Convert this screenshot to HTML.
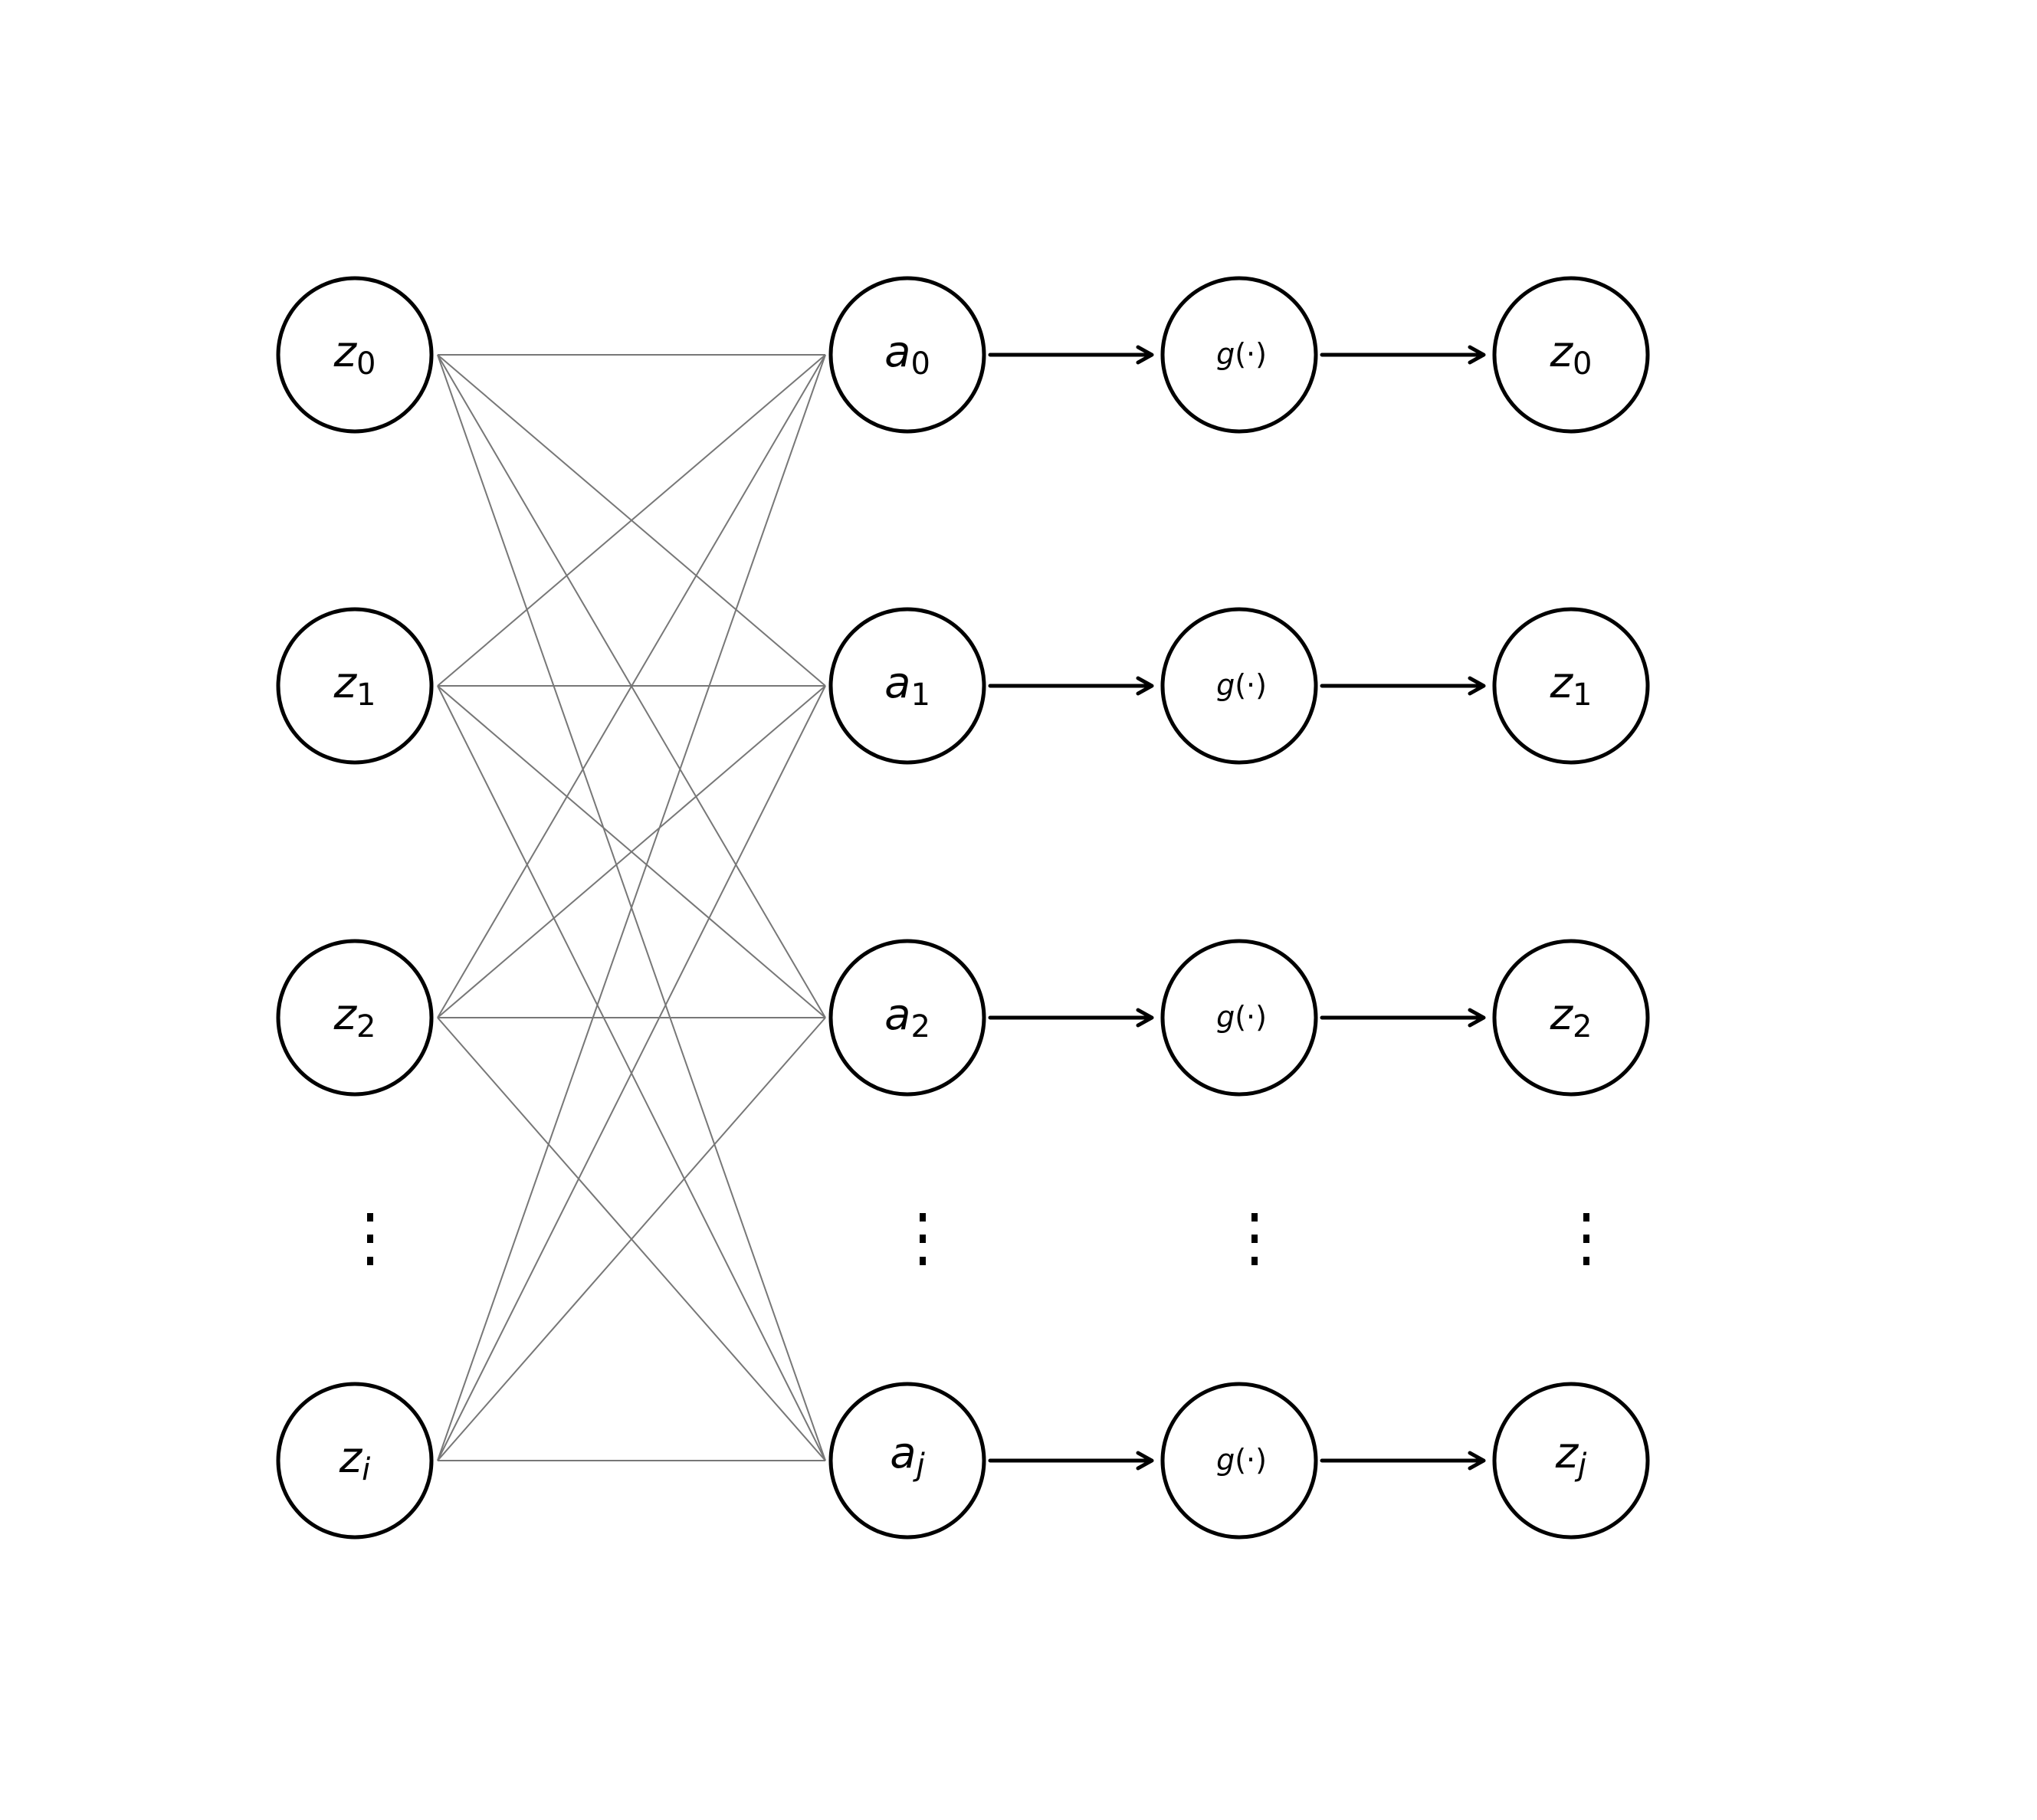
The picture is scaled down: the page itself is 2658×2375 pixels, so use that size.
<!DOCTYPE html>
<html><head><meta charset="utf-8"><style>html,body{margin:0;padding:0;background:#fff}</style></head>
<body>
<svg width="2658" height="2370" viewBox="0 0 2658 2370" xmlns="http://www.w3.org/2000/svg" font-family="DejaVu Sans, sans-serif">
<g stroke="#777" stroke-width="2">
<!-- lines generated -->
<line x1="571" y1="463" x2="1077" y2="463"/><line x1="571" y1="463" x2="1077" y2="895"/><line x1="571" y1="463" x2="1077" y2="1328"/><line x1="571" y1="463" x2="1077" y2="1906"/>
<line x1="571" y1="895" x2="1077" y2="463"/><line x1="571" y1="895" x2="1077" y2="895"/><line x1="571" y1="895" x2="1077" y2="1328"/><line x1="571" y1="895" x2="1077" y2="1906"/>
<line x1="571" y1="1328" x2="1077" y2="463"/><line x1="571" y1="1328" x2="1077" y2="895"/><line x1="571" y1="1328" x2="1077" y2="1328"/><line x1="571" y1="1328" x2="1077" y2="1906"/>
<line x1="571" y1="1906" x2="1077" y2="463"/><line x1="571" y1="1906" x2="1077" y2="895"/><line x1="571" y1="1906" x2="1077" y2="1328"/><line x1="571" y1="1906" x2="1077" y2="1906"/>
</g>
<g fill="none" stroke="#000" stroke-width="5">
<circle cx="463" cy="463" r="100"/><circle cx="463" cy="895" r="100"/><circle cx="463" cy="1328" r="100"/><circle cx="463" cy="1906" r="100"/>
<circle cx="1184" cy="463" r="100"/><circle cx="1184" cy="895" r="100"/><circle cx="1184" cy="1328" r="100"/><circle cx="1184" cy="1906" r="100"/>
<circle cx="1617" cy="463" r="100"/><circle cx="1617" cy="895" r="100"/><circle cx="1617" cy="1328" r="100"/><circle cx="1617" cy="1906" r="100"/>
<circle cx="2050" cy="463" r="100"/><circle cx="2050" cy="895" r="100"/><circle cx="2050" cy="1328" r="100"/><circle cx="2050" cy="1906" r="100"/>
</g>
<g fill="none" stroke="#000" stroke-width="5" stroke-linecap="round" stroke-linejoin="round">
<path d="M1292 463H1503M1485 453L1503 463L1485 473"/>
<path d="M1725 463H1936M1918 453L1936 463L1918 473"/>
<path d="M1292 895H1503M1485 885L1503 895L1485 905"/>
<path d="M1725 895H1936M1918 885L1936 895L1918 905"/>
<path d="M1292 1328H1503M1485 1318L1503 1328L1485 1338"/>
<path d="M1725 1328H1936M1918 1318L1936 1328L1918 1338"/>
<path d="M1292 1906H1503M1485 1896L1503 1906L1485 1916"/>
<path d="M1725 1906H1936M1918 1896L1936 1906L1918 1916"/>
</g>
<g fill="#000">
<rect x="479" y="1583" width="8" height="11"/><rect x="479" y="1611" width="8" height="11"/><rect x="479" y="1640" width="8" height="11"/>
<rect x="1200" y="1583" width="8" height="11"/><rect x="1200" y="1611" width="8" height="11"/><rect x="1200" y="1640" width="8" height="11"/>
<rect x="1633" y="1583" width="8" height="11"/><rect x="1633" y="1611" width="8" height="11"/><rect x="1633" y="1640" width="8" height="11"/>
<rect x="2066" y="1583" width="8" height="11"/><rect x="2066" y="1611" width="8" height="11"/><rect x="2066" y="1640" width="8" height="11"/>
</g>
<g font-size="56" text-anchor="middle" fill="#000">
<text x="463" y="478"><tspan font-style="italic">z</tspan><tspan font-size="40" dy="10">0</tspan></text>
<text x="463" y="910"><tspan font-style="italic">z</tspan><tspan font-size="40" dy="10">1</tspan></text>
<text x="463" y="1343"><tspan font-style="italic">z</tspan><tspan font-size="40" dy="10">2</tspan></text>
<text x="463" y="1921"><tspan font-style="italic">z</tspan><tspan font-size="40" dy="10" font-style="italic">i</tspan></text>
<text x="1184" y="478"><tspan font-style="italic">a</tspan><tspan font-size="40" dy="10">0</tspan></text>
<text x="1184" y="910"><tspan font-style="italic">a</tspan><tspan font-size="40" dy="10">1</tspan></text>
<text x="1184" y="1343"><tspan font-style="italic">a</tspan><tspan font-size="40" dy="10">2</tspan></text>
<text x="1184" y="1915"><tspan font-style="italic">a</tspan><tspan font-size="40" dy="10" font-style="italic">j</tspan></text>
<text x="2050" y="478"><tspan font-style="italic">z</tspan><tspan font-size="40" dy="10">0</tspan></text>
<text x="2050" y="910"><tspan font-style="italic">z</tspan><tspan font-size="40" dy="10">1</tspan></text>
<text x="2050" y="1343"><tspan font-style="italic">z</tspan><tspan font-size="40" dy="10">2</tspan></text>
<text x="2050" y="1915"><tspan font-style="italic">z</tspan><tspan font-size="40" dy="10" font-style="italic">j</tspan></text>
</g>
<g font-size="38" text-anchor="middle" fill="#000">
<text x="1620" y="475"><tspan font-style="italic">g</tspan>(·)</text>
<text x="1620" y="907"><tspan font-style="italic">g</tspan>(·)</text>
<text x="1620" y="1340"><tspan font-style="italic">g</tspan>(·)</text>
<text x="1620" y="1918"><tspan font-style="italic">g</tspan>(·)</text>
</g>
</svg>
</body></html>
